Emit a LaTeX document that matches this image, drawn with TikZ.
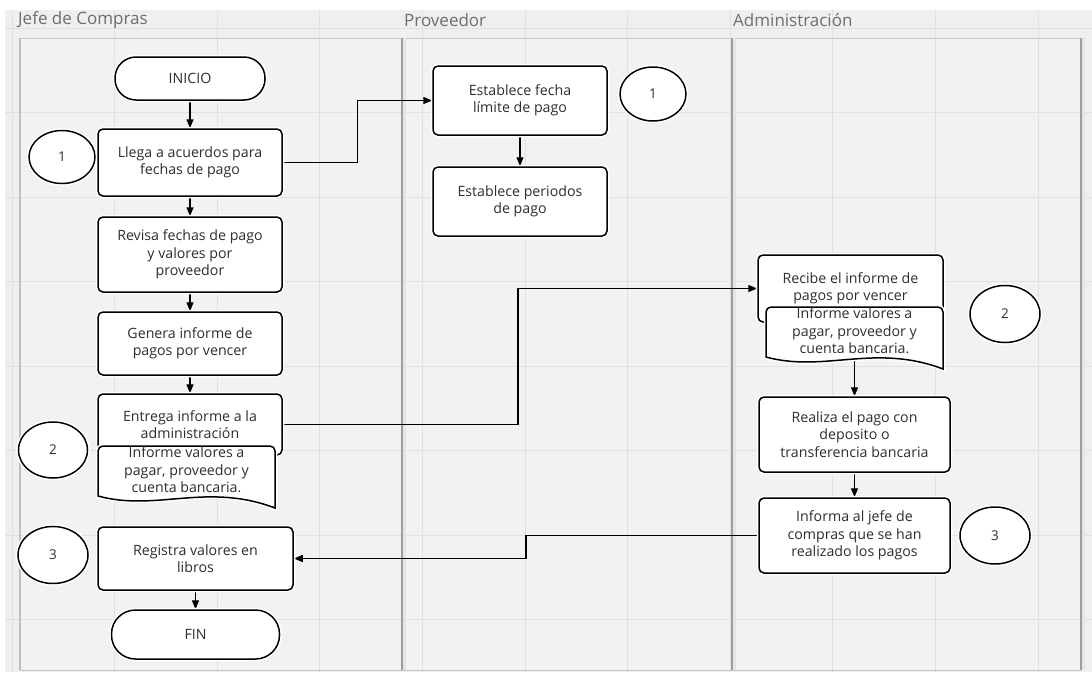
\documentclass[tikz,border=0pt]{standalone}
\usepackage{fontspec}
\setmainfont{Open Sans}
\usetikzlibrary{arrows.meta,shapes.geometric,calc}

\pgfdeclarelayer{bg}
\pgfdeclarelayer{wires}
\pgfsetlayers{bg,wires,main}

\definecolor{canvas}{HTML}{EFEFEF}
\definecolor{lane}{HTML}{F2F2F2}
\definecolor{gridc}{HTML}{E1E1E1}
\definecolor{laneedge}{HTML}{9E9E9E}
\definecolor{txt}{HTML}{2E2E2E}
\definecolor{head}{HTML}{6E6E6E}

\tikzset{
  x=1pt, y=-1pt,
  halo/.style={preaction={draw=white, line width=4.5pt}},
  boxfont/.style={font=\fontsize{14.2}{17.5}\selectfont},
  proc/.style={draw=black, line width=1.5pt, fill=white, rounded corners=5pt,
    align=center, text=txt, boxfont, inner sep=2pt, halo},
  conn/.style={ellipse, draw=black, line width=1.5pt, fill=white, text=txt,
    font=\fontsize{13.5}{15}\selectfont, inner sep=0pt, halo},
  doctext/.style={align=center, text=txt, boxfont, inner sep=0pt},
  docline/.style={draw=black, line width=1.5pt, fill=white, halo},
  lanehead/.style={anchor=west, text=head, font=\fontsize{17}{20}\selectfont, inner sep=0pt},
  arr/.style={draw=black, line width=1.3pt, -{Triangle[length=9pt, width=7pt]}}
}

% document symbol with a wavy bottom, centred on the current origin
\newcommand{\docshape}{%
  (-88.5,26) [rounded corners=5pt] -- (-88.5,-24) -- (88.5,-24) [sharp corners] -- (88.5,38)
  .. controls (20,12) and (-30,42) .. (-88.5,26) -- cycle}

\begin{document}
\begin{tikzpicture}
\useasboundingbox (0,0) rectangle (1092,672);

\begin{pgfonlayer}{bg}
  % canvas, swimlane panel and grid
  \fill[white] (0,0) rectangle (1092,672);
  \fill[canvas] (5,10) rectangle (1092,672);
  \fill[lane] (20,38) rectangle (1081,670);
  \foreach \gx in {12,114.6,217.2,319.8,422.4,525,627.6,730.2,832.8,935.4,1038}
    \draw[gridc, line width=1pt] (\gx,10) -- (\gx,672);
  \foreach \gy in {28,112.5,197,281.5,366,450.5,535,619.5}
    \draw[gridc, line width=1pt] (5,\gy) -- (1092,\gy);
  % lane borders
  \draw[black!22, line width=1pt] (20,38) -- (1081,38);
  \draw[black!22, line width=1pt] (20,670) -- (1081,670);
  \draw[black!25, line width=1.2pt] (20,38) -- (20,670);
  \foreach \lx in {402,732,1081} {
    \draw[black!10, line width=2.5pt] (\lx+2.5,38) -- (\lx+2.5,670);
    \draw[laneedge, line width=1.6pt] (\lx,38) -- (\lx,670);
  }
  % lane titles
  \node[lanehead] (hJefe) at (18,20) {Jefe de Compras};
  \node[lanehead] (hProv) at (404,20) {Proveedor};
  \node[lanehead] (hAdm) at (733,20) {Administración};
\end{pgfonlayer}

% ---- Jefe de Compras ----
\node[proc, rounded corners=21pt, minimum width=150pt, minimum height=43pt] (inicio) at (190,78.5) {INICIO};
\node[conn, minimum width=66pt, minimum height=53pt] (c1a) at (62,157) {1};
\node[proc, minimum width=184pt, minimum height=67pt] (llega) at (190,162.5) {Llega a acuerdos para\\fechas de pago};
\node[proc, minimum width=184pt, minimum height=75pt] (revisa) at (190,254.5) {Revisa fechas de pago\\y valores por\\proveedor};
\node[proc, minimum width=184pt, minimum height=63pt] (genera) at (190,343.5) {Genera informe de\\pagos por vencer};
\node[proc, minimum width=184pt, minimum height=61pt] (entrega) at (190,424.5) {Entrega informe a la\\administración};
\coordinate (docLc) at (186.5,470);
\draw[docline, shift={(docLc)}] \docshape;
\node[doctext] (docL) at (docLc) {Informe valores a\\pagar, proveedor y\\cuenta bancaria.};
\node[conn, minimum width=69pt, minimum height=56pt] (c2a) at (53,450) {2};
\node[conn, minimum width=70pt, minimum height=57pt] (c3a) at (53,555) {3};
\node[proc, minimum width=195pt, minimum height=63pt] (registra) at (195.5,558.5) {Registra valores en\\libros};
\node[proc, rounded corners=24pt, minimum width=168pt, minimum height=49pt] (fin) at (195.5,634.5) {FIN};

% ---- Proveedor ----
\node[proc, minimum width=174pt, minimum height=69pt] (estf) at (520,100.5) {Establece fecha\\límite de pago};
\node[conn, minimum width=66pt, minimum height=54pt] (c1b) at (653,94) {1};
\node[proc, minimum width=174pt, minimum height=69pt] (estp) at (520,201.5) {Establece periodos\\de pago};

% ---- Administración ----
\node[proc, minimum width=185pt, minimum height=67pt] (recibe) at (850.5,288.5) {Recibe el informe de\\pagos por vencer};
\coordinate (docRc) at (854.5,331);
\draw[docline, shift={(docRc)}] \docshape;
\node[doctext] (docR) at (docRc) {Informe valores a\\pagar, proveedor y\\cuenta bancaria.};
\node[conn, minimum width=70pt, minimum height=57pt] (c2b) at (1005,314) {2};
\node[proc, minimum width=191pt, minimum height=75pt] (realiza) at (854.5,434.5) {Realiza el pago con\\deposito o\\transferencia bancaria};
\node[proc, minimum width=191pt, minimum height=75pt] (informa) at (854.5,535.5) {Informa al jefe de\\compras que se han\\realizado los pagos};
\node[conn, minimum width=70pt, minimum height=57pt] (c3b) at (995,535.5) {3};

% ---- connectors ----
\begin{pgfonlayer}{wires}
  \draw[arr] (inicio) -- (llega);
  \draw[arr] (llega) -- (revisa);
  \draw[arr] (revisa) -- (genera);
  \draw[arr] (genera) -- (entrega.north);
  \draw[arr] (registra.south -| fin.north) -- (fin.north);
  \draw[arr] (estf) -- (estp);
  \draw[arr] (docR.south) -- (realiza.north);
  \draw[arr] (realiza) -- (informa);
  \draw[arr] (llega.east) -| ($(llega.east)!.5!(estf.west)$) |- (estf.west);
  \draw[arr] (entrega.east) -| ($(entrega.east)!.5!(recibe.west)+(-2,0)$) |- (recibe.west);
  \draw[arr] (informa.west) -| ($(informa.west)!.5!(registra.east)$) |- (registra.east);
\end{pgfonlayer}
\end{tikzpicture}
\end{document}
